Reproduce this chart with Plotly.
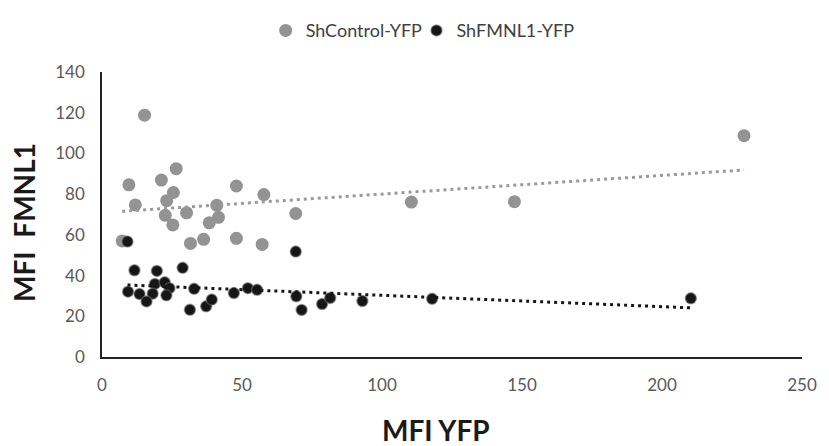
import numpy as np
import plotly.graph_objects as go

# ---- data ----
ctrl_x = [15.2, 26.5, 9.6, 21.2, 48.0, 25.5, 23.1, 11.9, 57.8, 41.0, 30.2, 22.6,
          41.6, 38.3, 25.3, 31.6, 36.3, 48.0, 57.2, 7.2, 69.2, 110.5, 147.3, 229.3]
ctrl_y = [118.8, 92.5, 84.6, 86.9, 84.0, 80.8, 76.8, 74.7, 79.8, 74.5, 70.8, 69.6,
          68.6, 65.9, 64.9, 55.8, 57.8, 58.3, 55.3, 57.0, 70.5, 76.1, 76.3, 108.7]

kd_x = [11.6, 19.6, 28.8, 18.9, 22.4, 9.3, 13.4, 18.1, 24.1, 23.0, 15.9, 32.9,
        31.4, 37.2, 39.2, 47.1, 52.1, 55.4, 9.1, 69.2, 69.4, 71.3, 78.6, 81.5,
        93.0, 117.9, 210.3]
kd_y = [42.6, 42.3, 43.8, 35.9, 36.7, 32.1, 30.9, 31.1, 33.8, 30.3, 27.3, 33.5,
        23.2, 24.9, 28.2, 31.4, 33.8, 33.0, 56.7, 51.8, 29.8, 23.1, 26.0, 29.0,
        27.5, 28.6, 28.8]

series_names = ["ShControl-YFP", "ShFMNL1-YFP"]
x_ticks = [0, 50, 100, 150, 200, 250]
y_ticks = [0, 20, 40, 60, 80, 100, 120, 140]
x_title = "MFI YFP"
y_title = "MFI  FMNL1"

GRAY = "#939393"
BLACK = "#161616"
TICKFONT = dict(family="Lato, Open Sans, sans-serif", size=17, color="#595959")
LEGFONT = dict(family="Lato, Open Sans, sans-serif", size=18, color="#404040")


def trend(xs, ys):
    xs = np.asarray(xs, float)
    ys = np.asarray(ys, float)
    m, b = np.polyfit(xs, ys, 1)
    xx = np.array([xs.min(), xs.max()])
    return xx, m * xx + b


fig = go.Figure()

fig.add_trace(go.Scatter(
    x=ctrl_x, y=ctrl_y, mode="markers", name=series_names[0], legend="legend",
    marker=dict(size=13, color=GRAY, line=dict(width=0)),
))
fig.add_trace(go.Scatter(
    x=kd_x, y=kd_y, mode="markers", name=series_names[1], legend="legend2",
    marker=dict(size=11, color=BLACK, line=dict(width=1.5, color="rgba(110,110,110,0.55)")),
))

tx, ty = trend(ctrl_x, ctrl_y)
fig.add_trace(go.Scatter(x=tx, y=ty, mode="lines", showlegend=False, hoverinfo="skip",
                         line=dict(color="#9a9a9a", width=3, dash="3px,4px")))
tx, ty = trend(kd_x, kd_y)
fig.add_trace(go.Scatter(x=tx, y=ty, mode="lines", showlegend=False, hoverinfo="skip",
                         line=dict(color=BLACK, width=3, dash="3px,4px")))

leg_common = dict(orientation="h", xanchor="left", y=1.145, yanchor="middle",
                  font=LEGFONT, bgcolor="rgba(0,0,0,0)", borderwidth=0, itemsizing="trace")

fig.update_layout(
    width=829, height=446,
    margin=dict(l=102, r=17, t=66, b=89),
    paper_bgcolor="white", plot_bgcolor="white",
    showlegend=True,
    legend=dict(x=(268 - 102) / 710, **leg_common),
    legend2=dict(x=(421 - 102) / 710, **leg_common),
    font=dict(family="Lato, Open Sans, sans-serif"),
)

fig.update_xaxes(range=[0, 250], tickvals=x_ticks, ticktext=[str(v) for v in x_ticks],
                 showgrid=False, zeroline=False, showline=True, linecolor="#222222",
                 linewidth=1.5, ticks="", tickfont=TICKFONT, ticklabelstandoff=12)
fig.update_yaxes(range=[0, 140], tickvals=y_ticks, ticktext=[str(v) for v in y_ticks],
                 showgrid=False, zeroline=False, showline=True, linecolor="#222222",
                 linewidth=1.5, ticks="", tickfont=TICKFONT, ticklabelstandoff=12)

fig.add_annotation(text=x_title, xref="paper", yref="paper", x=(441 - 102) / 710,
                   y=(357 - 432) / 291, xanchor="center", yanchor="middle", showarrow=False,
                   font=dict(family="Lato, sans-serif", size=28, color="#1a1a1a", weight="bold"))
fig.add_annotation(text=y_title, xref="paper", yref="paper", x=(23 - 102) / 710,
                   y=(357 - 220) / 291, xanchor="center", yanchor="middle", showarrow=False,
                   textangle=-90,
                   font=dict(family="Lato, sans-serif", size=28, color="#1a1a1a", weight="bold"))

fig.write_html("out.html")
